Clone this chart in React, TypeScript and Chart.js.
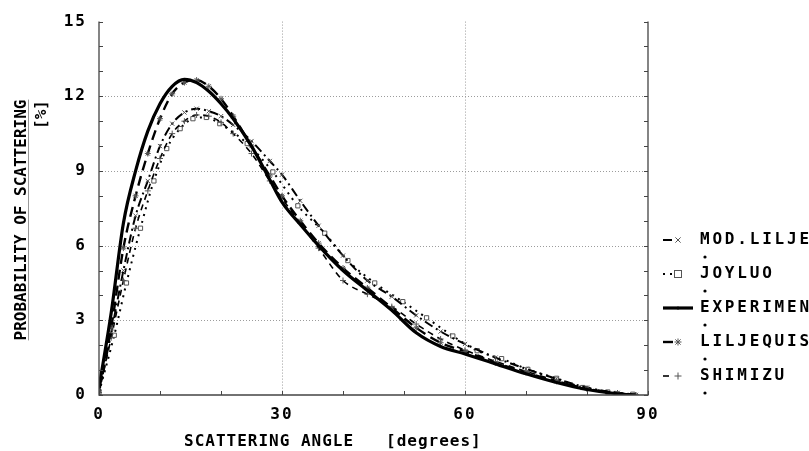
import React, { useEffect, useRef } from 'react';
import { Chart, registerables } from 'chart.js';

Chart.register(...registerables);

// ---- data ----
const ANGLES = [0, 2, 4, 6, 8, 10, 12, 14, 16, 18, 20, 22, 25, 28, 30, 33, 36, 40, 44, 48, 52, 56, 60, 65, 70, 75, 80, 85, 88];
const EXPERIMENT = [0.3, 3.3, 6.9, 9.0, 10.6, 11.7, 12.4, 12.68, 12.55, 12.2, 11.7, 11.1, 10.0, 8.65, 7.75, 6.85, 6.0, 5.0, 4.2, 3.4, 2.5, 1.95, 1.65, 1.25, 0.85, 0.5, 0.22, 0.05, 0.0];
const LILJEQUIST = [0.2, 2.7, 5.9, 8.0, 9.7, 11.1, 12.1, 12.55, 12.65, 12.4, 11.9, 11.2, 10.0, 8.8, 8.0, 7.0, 6.1, 5.1, 4.3, 3.5, 2.7, 2.1, 1.75, 1.3, 0.9, 0.55, 0.25, 0.08, 0.0];
const MOD_LILJEQUIST = [0.1, 2.5, 5.0, 7.2, 8.6, 10.0, 10.9, 11.35, 11.5, 11.4, 11.2, 10.85, 10.2, 9.4, 8.85, 7.8, 6.8, 5.6, 4.6, 3.95, 3.2, 2.55, 2.05, 1.5, 1.05, 0.65, 0.3, 0.08, 0.0];
const SHIMIZU = [0.1, 2.3, 4.6, 6.7, 8.2, 9.5, 10.5, 11.0, 11.25, 11.2, 10.95, 10.5, 9.7, 8.6, 7.9, 6.9, 5.9, 4.6, 4.05, 3.55, 2.85, 2.25, 1.8, 1.35, 0.95, 0.58, 0.26, 0.07, 0.0];
const JOYLUO_ANGLES = [0, 2.5, 4.5, 6.8, 9, 11.1, 13.3, 15.4, 17.6, 19.8, 24.3, 28.5, 32.6, 37, 40.8, 45.2, 49.8, 53.7, 58, 62, 66, 70.3, 75, 79.3, 83.4, 87.5];
const JOYLUO = [0.1, 2.4, 4.5, 6.7, 8.6, 9.9, 10.7, 11.1, 11.15, 10.9, 10.1, 8.96, 7.6, 6.5, 5.4, 4.5, 3.75, 3.1, 2.37, 1.78, 1.46, 1.03, 0.67, 0.3, 0.12, 0.03];

const X_MAJOR = [0, 30, 60, 90];
const X_MINOR = [10, 20, 40, 50, 70, 80];
const Y_MAJOR = [0, 3, 6, 9, 12, 15];
const Y_MINOR = [1, 2, 4, 5, 7, 8, 10, 11, 13, 14];

const X_TITLE = 'SCATTERING ANGLE   [degrees]';
const Y_TITLE = 'PROBABILITY OF SCATTERING';
const Y_UNIT = '[%]';
const LEGEND_LABELS = ['MOD.LILJEQUIST', 'JOYLUO', 'EXPERIMENT', 'LILJEQUIST', 'SHIMIZU'];

const FONT = '"DejaVu Sans Mono", "Liberation Mono", monospace';
const INK = '#000';
const MARK = '#555';

const pts = (xs: number[], ys: number[]) => xs.map((x, i) => ({ x, y: ys[i] }));

type Style = { dash: number[]; width: number; marker: string | null };
const STYLES: Record<string, Style> = {
  'MOD.LILJEQUIST': { dash: [9, 4, 2, 4], width: 2, marker: 'crossRot' },
  JOYLUO: { dash: [2, 5], width: 2, marker: 'rect' },
  EXPERIMENT: { dash: [], width: 3.2, marker: null },
  LILJEQUIST: { dash: [10, 6], width: 2.4, marker: 'star' },
  SHIMIZU: { dash: [6, 5], width: 1.6, marker: 'cross' },
};

function drawMarker(ctx: CanvasRenderingContext2D, style: string, x: number, y: number, r: number) {
  ctx.beginPath();
  if (style === 'rect') {
    ctx.fillStyle = '#fff';
    ctx.fillRect(x - r, y - r, 2 * r, 2 * r);
    ctx.strokeRect(x - r, y - r, 2 * r, 2 * r);
    return;
  }
  if (style === 'dot') {
    ctx.arc(x, y, r, 0, Math.PI * 2);
    ctx.fillStyle = INK;
    ctx.fill();
    return;
  }
  if (style === 'cross' || style === 'star') {
    ctx.moveTo(x - r, y); ctx.lineTo(x + r, y);
    ctx.moveTo(x, y - r); ctx.lineTo(x, y + r);
  }
  if (style === 'crossRot' || style === 'star') {
    const d = r * 0.75;
    ctx.moveTo(x - d, y - d); ctx.lineTo(x + d, y + d);
    ctx.moveTo(x - d, y + d); ctx.lineTo(x + d, y - d);
  }
  ctx.stroke();
}

const overlay = {
  id: 'overlay',
  beforeDraw(chart: any) {
    chart.ctx.letterSpacing = '2px';
  },
  beforeDatasetsDraw(chart: any) {
    const { ctx, chartArea: a, scales } = chart;
    const xs = scales.x, ys = scales.y;
    ctx.save();
    ctx.strokeStyle = '#9c9c9c';
    ctx.lineWidth = 1;
    ctx.setLineDash([1, 2]);
    ctx.beginPath();
    for (const v of X_MAJOR.slice(1, -1)) {
      const px = Math.round(xs.getPixelForValue(v)) + 0.5;
      ctx.moveTo(px, a.top); ctx.lineTo(px, a.bottom);
    }
    for (const v of Y_MAJOR.slice(1, -1)) {
      const py = Math.round(ys.getPixelForValue(v)) + 0.5;
      ctx.moveTo(a.left, py); ctx.lineTo(a.right, py);
    }
    ctx.stroke();
    ctx.restore();
  },
  afterDraw(chart: any) {
    const { ctx, chartArea: a, scales } = chart;
    const xs = scales.x, ys = scales.y;
    ctx.save();
    // frame
    ctx.setLineDash([]);
    ctx.strokeStyle = '#444';
    ctx.lineWidth = 1.3;
    ctx.beginPath();
    ctx.moveTo(a.left, a.top); ctx.lineTo(a.left, a.bottom); ctx.lineTo(a.right, a.bottom); ctx.lineTo(a.right, a.top);
    ctx.stroke();
    // inward ticks
    ctx.lineWidth = 1;
    ctx.beginPath();
    for (const v of [...Y_MAJOR, ...Y_MINOR]) {
      const py = Math.round(ys.getPixelForValue(v)) + 0.5;
      ctx.moveTo(a.left, py); ctx.lineTo(a.left + 4, py);
      ctx.moveTo(a.right, py); ctx.lineTo(a.right - 4, py);
    }
    for (const v of [...X_MAJOR, ...X_MINOR]) {
      const px = Math.round(xs.getPixelForValue(v)) + 0.5;
      ctx.moveTo(px, a.bottom); ctx.lineTo(px, a.bottom - 4);
    }
    ctx.stroke();

    ctx.fillStyle = INK;
    ctx.font = `bold 16px ${FONT}`;
    ctx.textBaseline = 'alphabetic';

    // x title
    ctx.letterSpacing = '1px';
    ctx.textAlign = 'left';
    ctx.fillText(X_TITLE, 184, 446);

    // y title
    ctx.letterSpacing = '0px';
    ctx.save();
    ctx.translate(26, 220);
    ctx.rotate(-Math.PI / 2);
    ctx.textAlign = 'center';
    ctx.fillText(Y_TITLE, 0, 0);
    const w = ctx.measureText(Y_TITLE).width;
    ctx.strokeStyle = '#999';
    ctx.beginPath();
    ctx.moveTo(-w / 2, 2.5); ctx.lineTo(w / 2, 2.5);
    ctx.stroke();
    ctx.restore();
    ctx.save();
    ctx.translate(46, 100);
    ctx.rotate(-Math.PI / 2);
    ctx.textAlign = 'right';
    ctx.fillText(Y_UNIT, 0, 0);
    ctx.restore();

    // legend
    ctx.letterSpacing = '2.8px';
    const lx0 = 663, lx1 = 693, tx = 700;
    LEGEND_LABELS.forEach((label, i) => {
      const cy = 238 + i * 34;
      const st = STYLES[label];
      ctx.fillStyle = INK;
      ctx.textAlign = 'left';
      ctx.fillText(label, tx, cy + 6);
      ctx.beginPath();
      ctx.arc(705, cy + 19, 1.6, 0, Math.PI * 2);
      ctx.fill();
      const ly = cy + 2;
      ctx.strokeStyle = INK;
      ctx.lineWidth = st.width;
      ctx.setLineDash(st.dash);
      ctx.beginPath();
      if (label === 'EXPERIMENT') {
        ctx.moveTo(lx0, ly); ctx.lineTo(lx1, ly);
      } else {
        ctx.moveTo(lx0, ly); ctx.lineTo(lx0 + 10, ly);
      }
      ctx.stroke();
      ctx.setLineDash([]);
      ctx.lineWidth = 1;
      ctx.strokeStyle = MARK;
      drawMarker(ctx, st.marker || 'dot', 678, ly, st.marker ? 3.5 : 1.5);
    });
    ctx.restore();
  },
};

function makeDataset(label: string, xs: number[], ys: number[]) {
  const st = STYLES[label];
  return {
    label,
    data: pts(xs, ys),
    borderColor: INK,
    borderWidth: st.width,
    borderDash: st.dash,
    cubicInterpolationMode: 'monotone' as const,
    pointStyle: st.marker || 'circle',
    pointRadius: st.marker ? 3 : 0,
    pointBorderColor: MARK,
    pointBackgroundColor: '#fff',
    pointBorderWidth: 1,
    fill: false,
  };
}

export default function App() {
  const ref = useRef<HTMLCanvasElement>(null);
  useEffect(() => {
    if (!ref.current) return;
    const chart = new Chart(ref.current, {
      type: 'line',
      data: {
        datasets: [
          makeDataset('EXPERIMENT', ANGLES, EXPERIMENT),
          makeDataset('LILJEQUIST', ANGLES, LILJEQUIST),
          makeDataset('MOD.LILJEQUIST', ANGLES, MOD_LILJEQUIST),
          makeDataset('SHIMIZU', ANGLES, SHIMIZU),
          makeDataset('JOYLUO', JOYLUO_ANGLES, JOYLUO),
        ],
      },
      options: {
        responsive: false,
        animation: false,
        layout: { padding: { left: 0, top: 15, right: 161, bottom: 0 } },
        plugins: { legend: { display: false }, tooltip: { enabled: false } },
        scales: {
          x: {
            type: 'linear',
            min: 0,
            max: 90,
            afterFit: (s: any) => { s.height = 56; },
            afterBuildTicks: (s: any) => { s.ticks = X_MAJOR.map((v) => ({ value: v })); },
            grid: { display: false, drawTicks: false },
            border: { display: false },
            ticks: { color: INK, font: { family: FONT, size: 16, weight: 'bold' }, padding: 10, maxRotation: 0 },
          },
          y: {
            type: 'linear',
            min: 0,
            max: 15,
            afterFit: (s: any) => { s.width = 99; },
            afterBuildTicks: (s: any) => { s.ticks = Y_MAJOR.map((v) => ({ value: v })); },
            grid: { display: false, drawTicks: false },
            border: { display: false },
            ticks: { color: INK, font: { family: FONT, size: 16, weight: 'bold' }, padding: 12 },
          },
        },
      },
      plugins: [overlay],
    });
    return () => chart.destroy();
  }, []);
  return (
    <div style={{ position: 'fixed', left: 0, top: 0, width: 809, height: 451, background: '#fff' }}>
      <canvas ref={ref} width={809} height={451} style={{ display: 'block' }} />
    </div>
  );
}
